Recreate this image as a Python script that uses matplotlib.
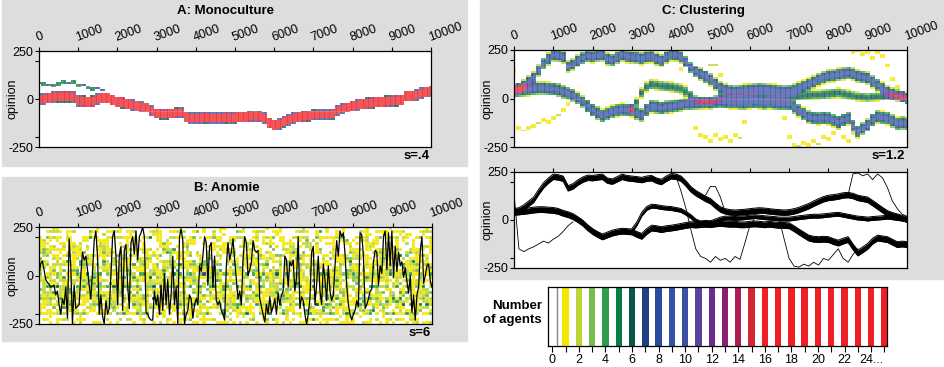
import numpy as np
import matplotlib
matplotlib.use("Agg")
import matplotlib.pyplot as plt
from matplotlib.colors import ListedColormap, BoundaryNorm
from matplotlib.patches import Rectangle

plt.rcParams["font.family"] = ["Liberation Sans", "DejaVu Sans"]

# colour of a cell holding 1, 2, ... 15 and 16+ agents
count_colors = ["#f5e600", "#bcd634", "#78bc4e", "#2f9d4d", "#0a7b43", "#0a5747",
                "#1f3f80", "#2c4b9e", "#3453a6", "#3b50a3", "#5b439a", "#6b2b8e",
                "#8c1f72", "#aa1d55", "#d42633", "#ee2026"]

# ---- A: monoculture, band centre every 125 steps
a_band = [0, 0, 5, 10, 12, 12, 12, 10, -10, -12, -15, -12, 0, 5, 5, -5,
          -15, -18, -25, -30, -35, -40, -45, -60, -75, -78, -78, -75, -72, -70,
          -95, -100, -100, -100, -98, -100, -100, -100, -98, -100, -98, -95, -95,
          -92, -90, -92, -100, -125, -135, -130, -118, -110, -100, -95, -92, -88,
          -82, -80, -80, -80, -78, -60, -50, -45, -35, -30, -25, -22, -18, -15,
          -15, -12, -10, -8, -5, 15, 15, 20, 30, 35, 40]
a_trail = [85, 80, 75, 70, 80, 90, 85, 90, 70, 75, 60, 50, 55, 45, 20, 10]

# ---- C: clustering, cluster centres every 125 steps
c_upper = [45, 50, 65, 85, 105, 145, 180, 205, 225, 222, 215, 165, 175, 195, 210,
           220, 218, 222, 225, 205, 200, 212, 225, 218, 215, 212, 208, 215, 218,
           205, 198, 215, 228, 225, 215, 190, 160, 140, 125, 110, 98, 75, 55, 45,
           40, 38, 40, 42, 45, 48, 50, 48, 45, 42, 40, 38, 40, 45, 52, 62, 72, 85,
           97, 108, 115, 118, 122, 128, 130, 125, 115, 110, 105, 88, 70, 52, 35,
           25, 18, 10, 2]
c_lower = [40, 42, 45, 48, 52, 54, 54, 52, 50, 45, 35, 28, 18, 2, -16, -40, -60,
           -75, -88, -78, -68, -62, -58, -60, -62, -75, -85, -60, -42, -45, -50,
           -45, -42, -38, -33, -28, -24, -26, -24, -22, -24, -20, -18, -20, -22,
           -22, -25, -25, -22, -20, -22, -25, -22, -25, -28, -28, -30, -45, -62,
           -78, -94, -100, -102, -100, -102, -112, -120, -110, -102, -140, -172,
           -155, -137, -110, -94, -98, -102, -115, -128, -125, -128]
c_branch = [np.nan] * 24 + [
    -55, -20, 30, 60, 72, 70, 65, 62, 60, 55, 50, 35, 18, -5, -15, -12, -14,
    -5, 5, 10, 10, 8, 10, 12, 15, 18, 15, 12, 10, 8, 5, 5, 5, 8, 12, 15, 18,
    20, 20, 22, 25, 28, 30, 25, 20, 15, 10, 8, 5, 8, 10, 12, 15, 12, 8, 5, 0]
# single wandering agents: (start step, opinion every 125 steps)
strays = [
    (0, [140, -150, -165, -150, -140, -125, -110, -120, -100, -85, -60, -30, -10]),
    (4125, [225, 150, 60, -50, -150, -190, -200, -220, -190, -210, -200, -220,
            -190, -205, -120, -30, 10]),
    (4875, [130, 175, 175, 120, 40]),
    (6750, [0, -100, -200, -240, -245, -230, -240, -220, -235, -200, -210, -180,
            -150, -200, -220, -180, -150]),
    (8500, [130, 240, 245, 230, 240, 210, 240, 220, 170, 100, 60, 30, 20]),
]

# ---- B: anomie, one agent's opinion (evenly spaced over the run)
b_line = [0, 60, 75, 30, -20, -35, -45, -60, -55, -50, -100, -80, -150, -200,
          -120, -150, -60, -220, 190, 50, -250, -50, -170, -160, -150, 0, 120, 80,
          100, 30, -50, -120, 20, 180, 230, 100, -200, -100, -210, -250, -130,
          -200, -170, 0, 200, 230, 100, -150, 100, 150, -180, 130, 160, -50, -170,
          170, 200, 110, 230, 80, 200, 220, 250, 200, -190, -200, -220, -230, -230,
          -80, -150, -100, -200, -50, -180, 10, -150, -20, -200, -100, 100, -150,
          -60, -250, 200, 240, 180, -250, -200, -180, -100, -120, -220, -150, -120,
          -150, 50, 20, 100, 200, 170, -50, 150, 170, -60, 100, -130, -150, -130,
          -180, -200, -230, 50, 170, 80, 120, 190, 80, -20, -120, -80, -150, 80,
          200, 170, 0, 30, 70, 180, 130, 120, 130, -120, -160, -200, -240, -150,
          -200, -110, -190, -160, -120, -200, -90, -150, -100, -80, 100, 80, -60,
          70, 50, 80, -80, -10, 200, -170, -110, -130, -200, -250, -200, -120, 120,
          150, -150, -50, 100, -80, -150, 60, -20, -130, 50, -80, -130, -100, 50,
          180, 100, 230, 200, 220, 110, -50, -150, -200, -230, -200, -180, -130,
          -160, 220, 210, 100, -170, -150, -120, -80, -70, 70, 130, 120, -50, 50,
          10, 200, 230, 30, 220, 50, 230, -10, 150, 20, 120, 50, 70, -10, 40, -30,
          -90, 0, -190, -100, -230, -100, -60, 130, 200, -40, 0, 50, 60, -30, -60]

legend_ticks = list(range(0, 26))
legend_labels = [str(v) if v % 2 == 0 else "" for v in legend_ticks]
legend_labels[24] = "24..."

cmap = ListedColormap(count_colors[:-1])
cmap.set_over(count_colors[-1])
norm = BoundaryNorm(np.arange(0.5, 16.0, 1.0), cmap.N)

t = np.linspace(0, 10000, 81)
row_c = np.arange(-245, 250, 10)
row_e = np.arange(-250, 251, 10)
col_e = np.arange(-62.5, 10062.6, 62.5)


def band(centre, peak, half):
    c = np.asarray(centre, dtype=float)
    d = np.abs(row_c[:, None] - c[None, :])
    w = peak * np.clip(1 - (d / half) ** 2, 0, None)
    return np.nan_to_num(w)


def full(start, vals):
    arr = np.full(81, np.nan)
    i = int(start / 125)
    arr[i:i + len(vals)] = vals
    return arr


def dots(ax, xe, ye):
    # thin white grid so the cells read as separate dots
    ax.vlines(xe, -250, 250, colors="white", lw=0.35, alpha=0.55)
    ax.hlines(ye, 0, 10000, colors="white", lw=0.35, alpha=0.55)


def draw_cells(ax, grid):
    g = np.round(np.repeat(grid, 2, axis=1))
    g = np.ma.masked_less(g, 0.5)
    ax.pcolormesh(col_e, row_e, g, cmap=cmap, norm=norm, edgecolors="none",
                  antialiased=False)
    dots(ax, col_e, row_e)


def style(ax, labels=True):
    ax.set_xlim(0, 10000)
    ax.set_ylim(-250, 250)
    ax.xaxis.tick_top()
    ax.set_xticks(range(0, 10001, 1000))
    if labels:
        ax.set_xticklabels([str(v) for v in range(0, 10001, 1000)], rotation=20,
                           ha="left", va="bottom", rotation_mode="anchor")
    else:
        ax.set_xticklabels([])
    ax.tick_params(axis="x", length=3, pad=2, labelsize=9)
    ax.set_yticks([-250, -200, 0, 200, 250])
    ax.set_yticklabels(["-250", "", "0", "", "250"])
    ax.tick_params(axis="y", length=3, pad=1, labelsize=9)
    ax.set_ylabel("opinion", fontsize=9)
    ax.yaxis.set_label_coords(-0.052, 0.5)
    for s in ax.spines.values():
        s.set_linewidth(0.9)
        s.set_zorder(5)


fig = plt.figure(figsize=(9.45, 3.67), dpi=100)
W, H = 945.0, 367.0


def box(x0, y0, x1, y1):
    return [x0 / W, 1 - y1 / H, (x1 - x0) / W, (y1 - y0) / H]


for (x0, y0, x1, y1) in [(2, 0, 467, 166), (2, 177, 467, 341), (480, 0, 945, 279)]:
    fig.add_artist(Rectangle((x0 / W, 1 - y1 / H), (x1 - x0) / W, (y1 - y0) / H,
                             transform=fig.transFigure, color="#dddddd", zorder=-1))

# A
axA = fig.add_axes(box(39, 51, 431, 147))
gridA = band(a_band, 34, 30) + band(full(0, a_trail), 8, 8)
draw_cells(axA, gridA)
style(axA)
axA.text(0.997, -0.03, "s=.4", transform=axA.transAxes, ha="right", va="top",
         fontsize=9.5, fontweight="bold")

# B: many agents spread over the whole range, built from the traced agent
axB = fig.add_axes(box(39, 227, 432, 324))
tb = np.linspace(0, 10000, len(b_line))
bv = np.array(b_line, dtype=float)
pts_t, pts_v = [], []
for k in range(1, 10):
    pts_t.append(tb)
    pts_v.append(np.roll(bv, k * 37))
    pts_t.append(tb)
    pts_v.append(0.5 * (np.roll(bv, k * 53) + np.roll(bv, k * 19 + 7)))
hb, xb, yb = np.histogram2d(np.concatenate(pts_t), np.concatenate(pts_v),
                            bins=[118, 32], range=[[0, 10000], [-250, 250]])
axB.pcolormesh(xb, yb, np.ma.masked_less(hb.T, 0.5), cmap=cmap, norm=norm,
               edgecolors="none", antialiased=False)
dots(axB, xb, yb)
axB.plot(tb, bv, color="black", lw=0.9)
style(axB)
axB.text(0.997, -0.03, "s=6", transform=axB.transAxes, ha="right", va="top",
         fontsize=9.5, fontweight="bold")

# C top: agent counts
axC = fig.add_axes(box(514, 50, 907, 147))
gridC = band(c_upper, 9, 34) + band(c_lower, 9, 36) + band(c_branch, 6, 28)
for st, vals in strays:
    gridC += band(full(st, vals), 2, 9)
draw_cells(axC, gridC)
style(axC)
axC.text(0.995, -0.03, "s=1.2", transform=axC.transAxes, ha="right", va="top",
         fontsize=9.5, fontweight="bold")

# C bottom: trajectories
axD = fig.add_axes(box(514, 172, 907, 268))
for cl, h in [(c_upper, 14), (c_lower, 15), (c_branch, 10)]:
    cl = np.asarray(cl, dtype=float)
    axD.fill_between(t, cl - h, cl + h, color="black", lw=0)
    axD.plot(t, cl - h, color="black", lw=0.7)
    axD.plot(t, cl + h, color="black", lw=0.7)
for st, vals in strays:
    axD.plot(st + 125 * np.arange(len(vals)), vals, color="black", lw=0.6)
style(axD, labels=False)

# legend
axL = fig.add_axes(box(548, 287, 887, 346))
for n in range(1, 26):
    axL.bar(n, 1, width=0.48, color=count_colors[min(n, 16) - 1], align="center")
axL.axvline(0.38, color="#888888", lw=1)
axL.set_xlim(-0.33, 25.2)
axL.set_ylim(0, 1)
axL.set_yticks([])
axL.set_xticks(legend_ticks)
axL.set_xticklabels(legend_labels)
axL.tick_params(axis="x", length=4, pad=2, labelsize=9)
for s in axL.spines.values():
    s.set_linewidth(0.9)
fig.text(542 / W, 1 - 313 / H, "Number\nof agents", ha="right", va="center",
         fontsize=9.5, fontweight="bold", linespacing=1.2)

fig.text(226 / W, 1 - 11 / H, "A: Monoculture", ha="center", va="center",
         fontsize=9.5, fontweight="bold")
fig.text(227 / W, 1 - 188 / H, "B: Anomie", ha="center", va="center",
         fontsize=9.5, fontweight="bold")
fig.text(703 / W, 1 - 11 / H, "C: Clustering", ha="center", va="center",
         fontsize=9.5, fontweight="bold")

fig.savefig("out.png", dpi=100)
